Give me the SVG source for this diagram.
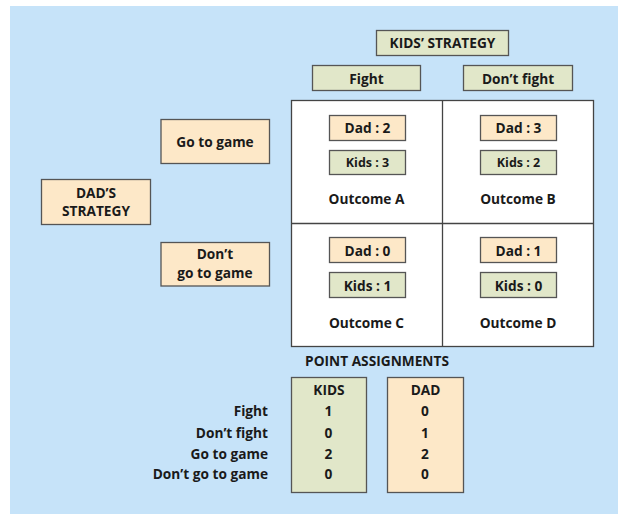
<svg xmlns="http://www.w3.org/2000/svg" width="618" height="514" viewBox="0 0 618 514">
<style>
text{font-family:"Open Sans","Liberation Sans",sans-serif;font-weight:700;font-size:13.7px;fill:#1a1a1a;text-anchor:middle}
.peach{fill:#fde8c8;stroke:#555;stroke-width:1.3}
.green{fill:#e1e7c9;stroke:#555;stroke-width:1.3}
.grid{fill:#fff;stroke:#444;stroke-width:1.3}
.r{text-anchor:end}
.sm{font-size:12.5px}
</style>
<rect x="10" y="6" width="608" height="508" fill="#c6e3f9"/>

<g id="kids-strategy"><rect class="green" x="376.5" y="30.5" width="132" height="25"/><text x="442.5" y="48">KIDS’ STRATEGY</text></g>
<g id="fight"><rect class="green" x="312.5" y="65.5" width="108" height="25"/><text x="366.5" y="83.5">Fight</text></g>
<g id="dont-fight"><rect class="green" x="463.5" y="65.5" width="109" height="25"/><text x="518" y="83.5">Don’t fight</text></g>

<g id="dads-strategy"><rect class="peach" x="41.5" y="179.5" width="109" height="45"/><text x="96" y="197.5">DAD’S</text><text x="96" y="215.5">STRATEGY</text></g>
<g id="go-to-game"><rect class="peach" x="161" y="119.5" width="108.5" height="44"/><text x="215" y="147">Go to game</text></g>
<g id="dont-go"><rect class="peach" x="161" y="242.5" width="108.5" height="43.5"/><text x="215" y="259">Don’t</text><text x="215" y="277.5">go to game</text></g>

<g id="payoff-grid">
<rect class="grid" x="291.5" y="100.5" width="302" height="246"/>
<line x1="442.5" y1="100.5" x2="442.5" y2="346.5" stroke="#444" stroke-width="1.3"/>
<line x1="291.5" y1="223.5" x2="593.5" y2="223.5" stroke="#444" stroke-width="1.3"/>
</g>

<g id="outcome-a"><rect class="peach" x="329.5" y="115.5" width="76" height="25"/><text x="367.5" y="133">Dad : 2</text>
<rect class="green" x="329.5" y="150.5" width="76" height="24"/><text class="sm" x="367.5" y="167">Kids : 3</text>
<text x="366.5" y="204">Outcome A</text></g>
<g id="outcome-b"><rect class="peach" x="480.5" y="115.5" width="76" height="25"/><text x="518.5" y="133">Dad : 3</text>
<rect class="green" x="480.5" y="150.5" width="76" height="24"/><text class="sm" x="518.5" y="167">Kids : 2</text>
<text x="518" y="204">Outcome B</text></g>
<g id="outcome-c"><rect class="peach" x="329.5" y="237.5" width="76" height="25"/><text x="367.5" y="255.5">Dad : 0</text>
<rect class="green" x="329.5" y="272.5" width="76" height="25"/><text x="367.5" y="290.5">Kids : 1</text>
<text x="366.5" y="327.5">Outcome C</text></g>
<g id="outcome-d"><rect class="peach" x="480.5" y="237.5" width="76" height="25"/><text x="518.5" y="255.5">Dad : 1</text>
<rect class="green" x="480.5" y="272.5" width="76" height="25"/><text x="518.5" y="290.5">Kids : 0</text>
<text x="518" y="327.5">Outcome D</text></g>

<g id="point-assignments">
<text x="377" y="366">POINT ASSIGNMENTS</text>
<rect class="green" x="291.5" y="377.5" width="75" height="115"/>
<rect class="peach" x="387.5" y="377.5" width="76" height="115"/>
<text x="329" y="394.5">KIDS</text>
<text x="425.5" y="394.5">DAD</text>
<text class="r" x="268" y="416">Fight</text>
<text class="r" x="268" y="437.5">Don’t fight</text>
<text class="r" x="268" y="459">Go to game</text>
<text class="r" x="268" y="479">Don’t go to game</text>
<text x="328.5" y="416">1</text><text x="328.5" y="437.5">0</text><text x="328.5" y="459">2</text><text x="328.5" y="479">0</text>
<text x="425" y="416">0</text><text x="425" y="437.5">1</text><text x="425" y="459">2</text><text x="425" y="479">0</text>
</g>
</svg>
